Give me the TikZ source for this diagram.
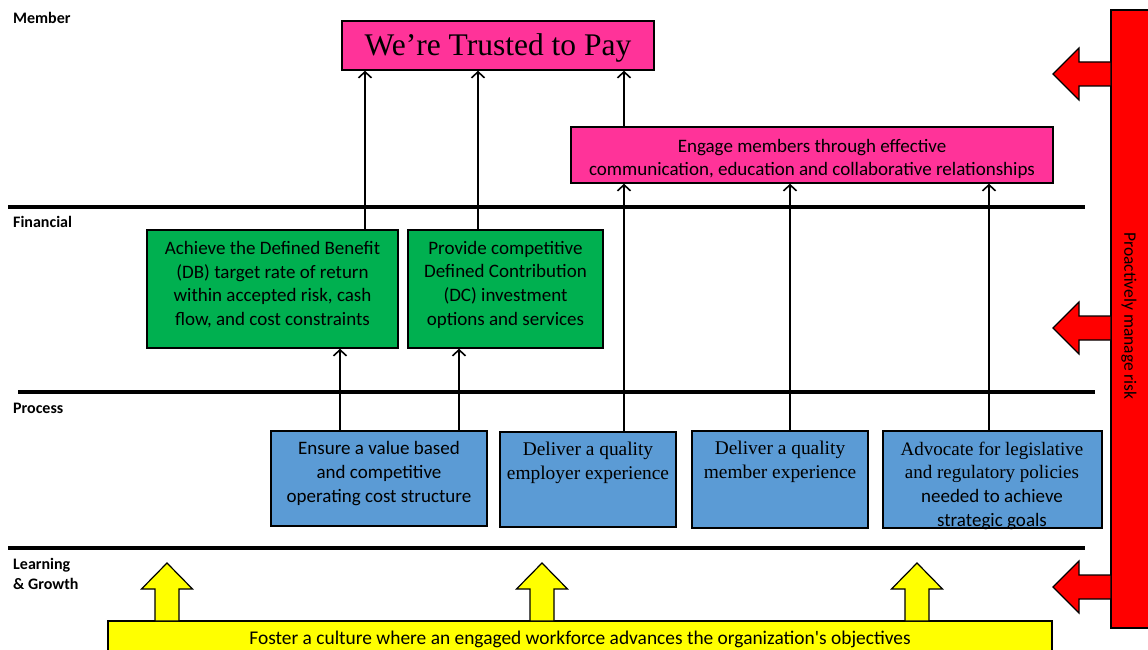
\documentclass[tikz,border=0pt]{standalone}
\usepackage{fontspec}
\setmainfont{Carlito}
\newfontfamily\serifx{Liberation Serif}
\usetikzlibrary{arrows.meta}
\definecolor{pinkx}{HTML}{FF3399}
\definecolor{greenx}{HTML}{00B050}
\definecolor{bluex}{HTML}{5B9BD5}
\definecolor{yellowx}{HTML}{FFFF00}
\definecolor{redx}{HTML}{FF0000}
\tikzset{
  box/.style={draw=black, line width=1.5pt, inner sep=0pt},
  txt/.style={align=center, inner sep=0pt, font=\fontsize{19}{23.7}\selectfont},
  arr/.style={line width=1.6pt, -{Straight Barb[length=6pt,width=13pt]}},
  sep/.style={line width=4.5pt},
  lbl/.style={anchor=west, inner sep=0pt, align=left, font=\bfseries\fontsize{16}{20}\selectfont},
  blk/.style={draw=black, line width=1.2pt, line join=miter},
}
\begin{document}
\begin{tikzpicture}[x=1pt,y=-1pt]
\useasboundingbox (0,0) rectangle (1148,650);
\clip (0,0) rectangle (1148,650);

% layer labels
\node[lbl] (lmem) at (13,18) {Member};
\node[lbl] (lfin) at (13,222) {Financial};
\node[lbl] (lpro) at (13,408) {Process};
\node[lbl] (llg) at (13,574) {Learning\\\& Growth};

% separator lines
\draw[sep] (8,207) -- (1085,207);
\draw[sep] (18,392) -- (1095,392);
\draw[sep] (8,548) -- (1085,548);

% boxes
\node[box, fill=pinkx, minimum width=312pt, minimum height=49pt] (title) at (498,45.5) {};
\node[inner sep=0pt, font=\serifx\fontsize{31.5}{36}\selectfont] (titletxt) at (498,48) {We’re Trusted to Pay};

\node[box, fill=pinkx, minimum width=482pt, minimum height=56pt] (eng) at (812,155) {};
\node[txt] (engtxt) at (812,159) {Engage members through effective\\communication, education and collaborative relationships};

\node[box, fill=greenx, minimum width=251pt, minimum height=118pt] (g1) at (272.5,289) {};
\node[txt] (g1txt) at (272.5,284.5) {Achieve the Defined Benefit\\(DB) target rate of return\\within accepted risk, cash\\flow, and cost constraints};

\node[box, fill=greenx, minimum width=195pt, minimum height=118pt] (g2) at (505.5,289) {};
\node[txt] (g2txt) at (505.5,284.5) {Provide competitive\\Defined Contribution\\(DC) investment\\options and services};

\node[box, fill=bluex, minimum width=216pt, minimum height=95pt] (b1) at (379,478.5) {};
\node[txt] (b1txt) at (379,473.5) {Ensure a value based\\and competitive\\operating cost structure};

\node[box, fill=bluex, minimum width=176pt, minimum height=95pt] (b2) at (588,479.5) {};
\node[txt, font=\serifx\fontsize{19.4}{23.7}\selectfont] (b2txt) at (588,463) {Deliver a quality\\employer experience};

\node[box, fill=bluex, minimum width=176pt, minimum height=97pt] (b3) at (780,479.5) {};
\node[txt, font=\serifx\fontsize{19.4}{23.7}\selectfont] (b3txt) at (780,462) {Deliver a quality\\member experience};

\node[box, fill=bluex, minimum width=219pt, minimum height=97pt] (b4) at (992.5,479.5) {};
\node[txt] (b4txt) at (992,485.5) {{\serifx Advocate for legislative}\\{\serifx and regulatory policies}\\needed to achieve\\strategic goals};

\node[box, fill=yellowx, minimum width=944pt, minimum height=49pt] (foot) at (580,645.5) {};
\node[txt, font=\fontsize{19.4}{22}\selectfont] (foottxt) at (580,639) {Foster a culture where an engaged workforce advances the organization\textquotesingle s objectives};

% red bar
\node[box, fill=redx, minimum width=39pt, minimum height=618pt] (risk) at (1130.5,319) {};
\node[inner sep=0pt, rotate=-90, font=\fontsize{17.5}{20}\selectfont] (risktxt) at (1129,316) {Proactively manage risk};

% connector coordinates
\coordinate (x1) at (365,0);
\coordinate (x2) at (478,0);
\coordinate (x3) at (624,0);
\coordinate (x4) at (340,0);
\coordinate (x5) at (459,0);
\coordinate (x6) at (790,0);
\coordinate (x7) at (989,0);

\draw[arr] (g1.north -| x1) -- (title.south -| x1);
\draw[arr] (g2.north -| x2) -- (title.south -| x2);
\draw[arr] (eng.north -| x3) -- (title.south -| x3);
\draw[arr] (b1.north -| x4) -- (g1.south -| x4);
\draw[arr] (b1.north -| x5) -- (g2.south -| x5);
\draw[arr] (b2.north -| x3) -- (eng.south -| x3);
\draw[arr] (b3.north -| x6) -- (eng.south -| x6);
\draw[arr] (b4.north -| x7) -- (eng.south -| x7);

% yellow block arrows
\foreach \cx in {167,542,917}{
  \draw[blk, fill=yellowx] (\cx,563) -- (\cx+25.5,589) -- (\cx+12,589) -- (\cx+12,621)
    -- (\cx-12,621) -- (\cx-12,589) -- (\cx-25.5,589) -- cycle;
}

% red block arrows
\foreach \cy in {74,328,587}{
  \draw[blk, fill=redx] (1053,\cy) -- (1079,\cy-26) -- (1079,\cy-12) -- (1111,\cy-12)
    -- (1111,\cy+12) -- (1079,\cy+12) -- (1079,\cy+26) -- cycle;
}
\end{tikzpicture}
\end{document}
